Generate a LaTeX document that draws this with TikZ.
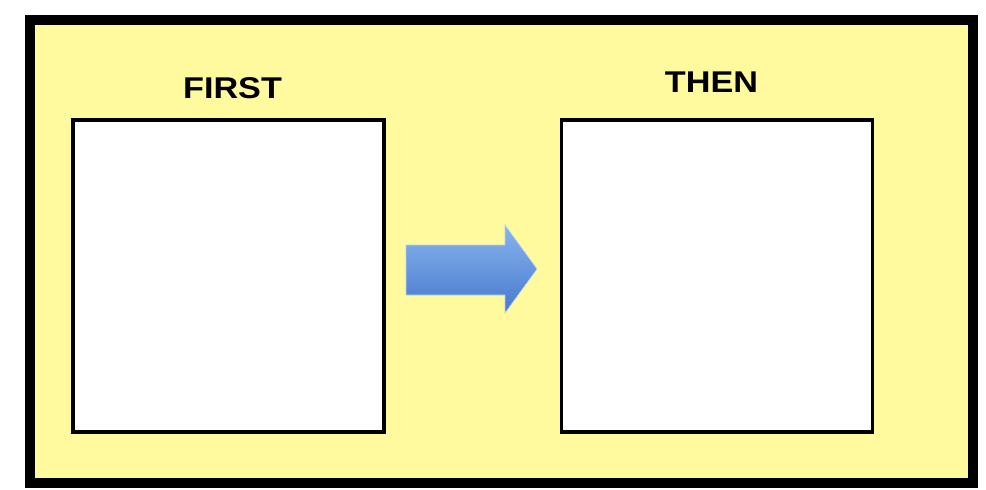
\documentclass[tikz,border=0pt]{standalone}
\usepackage{fontspec}
\setmainfont{Liberation Sans}
\usepackage{tikz}
\usetikzlibrary{positioning}
\definecolor{padyellow}{RGB}{255,250,158}
\definecolor{arrowtop}{RGB}{135,180,238}
\definecolor{arrowbot}{RGB}{72,122,205}

\begin{document}
\begin{tikzpicture}[x=1pt, y=-1pt,
  frame/.style={draw=black, line width=10pt, fill=padyellow},
  panel/.style={rectangle, draw=black, line width=3.5pt, fill=white, inner sep=0pt,
                minimum width=311pt, minimum height=312pt},
  caption/.style={font=\bfseries\fontsize{30}{32}\selectfont, anchor=base,
                  inner sep=0pt, xscale=1.14, transform shape},
]
\useasboundingbox[fill=white] (0,0) rectangle (986,490);
\path[frame] (30,20) rectangle (973,483);
\node[panel] (first) at (228.5,276) {};
\node[panel] (then) at (717,276) {};
\node[caption] (firstlabel) at (232.5,98) {FIRST};
\node[caption] (thenlabel) at (711.5,92) {THEN};
% arrow from first to then
\path[top color=arrowtop, bottom color=arrowbot, draw=arrowtop!60!white, line width=0.6pt]
  (406,245) -- (505,245) -- (505,225) -- (537,269) -- (505,313) -- (505,295) -- (406,295) -- cycle;
\end{tikzpicture}
\end{document}
